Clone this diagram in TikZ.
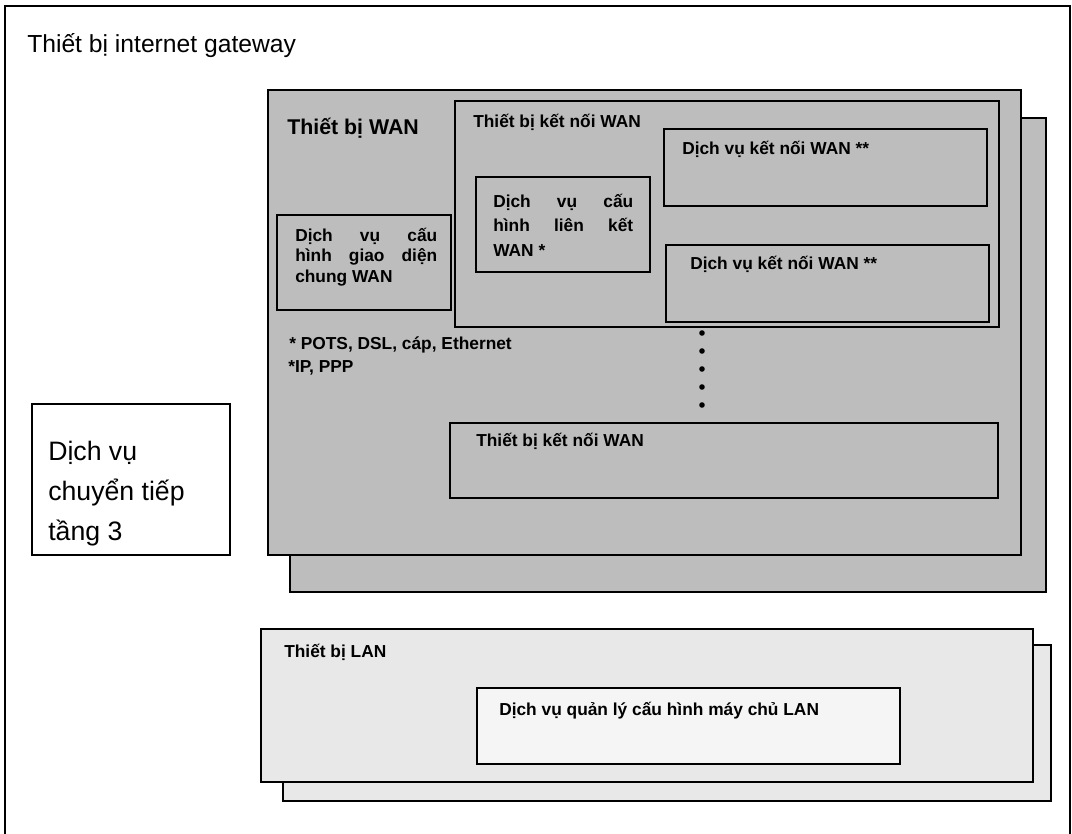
\documentclass[tikz,border=0pt]{standalone}
\usepackage{fontspec}
\setmainfont{Liberation Sans}
\usetikzlibrary{fit}
\newcommand\myfs[1]{\fontsize{#1}{#1}\selectfont}
\begin{document}
\begin{tikzpicture}[x=0.75pt,y=-0.75pt,
  box/.style={draw, line width=2pt, inner sep=0pt},
  thinbox/.style={draw, line width=1.4pt, inner sep=0pt},
  wanfill/.style={fill=black!26},
  lanfill/.style={fill=black!9},
  lbl/.style={anchor=base west, inner sep=0pt, font=\bfseries\myfs{13}},
  big/.style={anchor=base west, inner sep=0pt, font=\myfs{20}},
]
\useasboundingbox (0,0) rectangle (1072,834);
\fill[white] (0,0) rectangle (1072,834);
% outer frame (bottom edge runs off the picture)
\draw[line width=1.1pt] (5,840) -- (5,6) -- (1070,6) -- (1070,840);
\node[anchor=base west, inner sep=0pt, font=\myfs{18.5}] (title) at (27,53) {Thiết bị internet gateway};

% layer 3 forwarding service
\node[thinbox, fit={(32,404)(230,555)}] (l3box) {};
\node[big] (l3a) at (48,460) {Dịch vụ};
\node[big] (l3b) at (48,500) {chuyển tiếp};
\node[big] (l3c) at (48,540) {tầng 3};

% WAN device stack
\node[box, wanfill, fit={(290,118)(1046,592)}] (wanback) {};
\node[box, wanfill, fit={(268,90)(1021,555)}] (wanfront) {};
\node[anchor=base west, inner sep=0pt, font=\bfseries\myfs{16}] (wantitle) at (287,135) {Thiết bị WAN};

\node[box, wanfill, fit={(455,101)(999,327)}] (conntop) {};
\node[lbl] (conntoplbl) at (473,128) {Thiết bị kết nối WAN};

\node[box, wanfill, fit={(476,177)(650,272)}] (linkcfg) {};
\node[lbl] (linkcfga) at (493,208) {\makebox[105pt][s]{Dịch vụ cấu}};
\node[lbl] (linkcfgb) at (493,232) {\makebox[105pt][s]{hình liên kết}};
\node[lbl] (linkcfgc) at (493,257) {WAN *};

\node[box, wanfill, fit={(664,129)(987,206)}] (conn1) {};
\node[lbl] (conn1lbl) at (682,155) {Dịch vụ kết nối WAN **};
\node[box, wanfill, fit={(666,245)(989,322)}] (conn2) {};
\node[lbl] (conn2lbl) at (690,270) {Dịch vụ kết nối WAN **};

\node[box, wanfill, fit={(277,215)(451,310)}] (ifcfg) {};
\node[lbl] (ifcfga) at (295,242) {\makebox[106.5pt][s]{Dịch vụ cấu}};
\node[lbl] (ifcfgb) at (295,262) {\makebox[106.5pt][s]{hình giao diện}};
\node[lbl] (ifcfgc) at (295,283) {chung WAN};

\node[lbl] (note1) at (289,350) {* POTS, DSL, cáp, Ethernet};
\node[lbl] (note2) at (288,373) {*IP, PPP};

\foreach \yy in {333,351,369,387,405}
  \fill (702,\yy) circle (2.8);

\node[box, wanfill, fit={(450,423)(998,498)}] (connlow) {};
\node[lbl] (connlowlbl) at (476,447) {Thiết bị kết nối WAN};

% LAN device stack
\node[box, lanfill, fit={(283,645)(1051,801)}] (lanback) {};
\node[box, lanfill, fit={(261,629)(1033,782)}] (lanfront) {};
\node[lbl] (lantitle) at (284,657) {Thiết bị LAN};
\node[box, fill=black!4, fit={(477,688)(900,764)}] (lanhost) {};
\node[lbl] (lanhostlbl) at (499,715) {Dịch vụ quản lý cấu hình máy chủ LAN};
\end{tikzpicture}
\end{document}
